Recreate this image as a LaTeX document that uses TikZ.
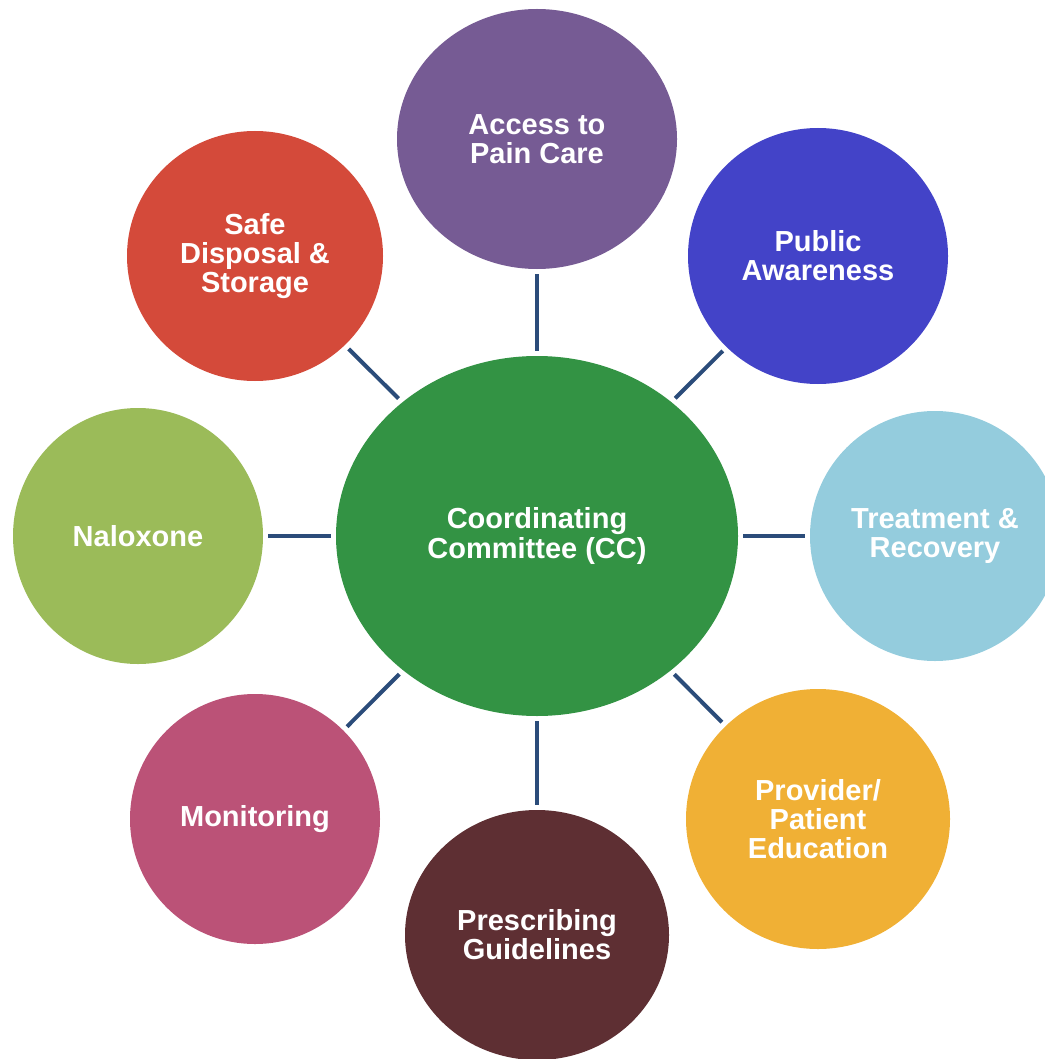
\documentclass[tikz,border=0pt]{standalone}
\usepackage{fontspec}
\setmainfont{Liberation Sans}
\usetikzlibrary{shapes.geometric}

\definecolor{ccgreen}{HTML}{339344}
\definecolor{painpurple}{HTML}{765B94}
\definecolor{awareblue}{HTML}{4343C8}
\definecolor{treatblue}{HTML}{94CCDD}
\definecolor{educorange}{HTML}{F0B035}
\definecolor{rxmaroon}{HTML}{5E2F33}
\definecolor{monitpink}{HTML}{BB5277}
\definecolor{naloxgreen}{HTML}{9BBB59}
\definecolor{dispred}{HTML}{D44A3A}
\definecolor{linkblue}{HTML}{2B4C7A}

\begin{document}
\begin{tikzpicture}[x=0.5pt,y=-0.5pt,
    bubble/.style={ellipse,inner sep=0pt,text=white,align=center,
      font=\fontsize{14.5}{14.6}\selectfont\bfseries},
    link/.style={draw=linkblue,line width=2pt,shorten >=2.5pt,shorten <=2.5pt}]
  \useasboundingbox (0,0) rectangle (1044,1059);

  % hub
  \node[bubble,fill=ccgreen,minimum width=201pt,minimum height=180pt] (cc) at (537,536) {Coordinating\\Committee (CC)};

  % satellites, clockwise from the top
  \node[bubble,fill=painpurple,minimum width=140pt,minimum height=130pt] (pain) at (537,139) {Access to\\Pain Care};
  \node[bubble,fill=awareblue,minimum width=130pt,minimum height=128pt] (aware) at (818,256) {Public\\Awareness};
  \node[bubble,fill=treatblue,minimum width=125pt,minimum height=125pt] (treat) at (935,536) {Treatment \&\\Recovery};
  \node[bubble,fill=educorange,minimum width=132pt,minimum height=130pt] (educ) at (818,819) {Provider/\\Patient\\Education};
  \node[bubble,fill=rxmaroon,minimum width=132pt,minimum height=125pt] (rx) at (537,935) {Prescribing\\Guidelines};
  \node[bubble,fill=monitpink,minimum width=125pt,minimum height=125pt] (monit) at (255,819) {Monitoring};
  \node[bubble,fill=naloxgreen,minimum width=125pt,minimum height=128pt] (nalox) at (138,536) {Naloxone};
  \node[bubble,fill=dispred,minimum width=128pt,minimum height=125pt] (disp) at (255,256) {Safe\\Disposal \&\\Storage};

  % spokes
  \foreach \n in {pain,aware,treat,educ,rx,monit,nalox,disp}
    \draw[link] (cc) -- (\n);
\end{tikzpicture}
\end{document}
